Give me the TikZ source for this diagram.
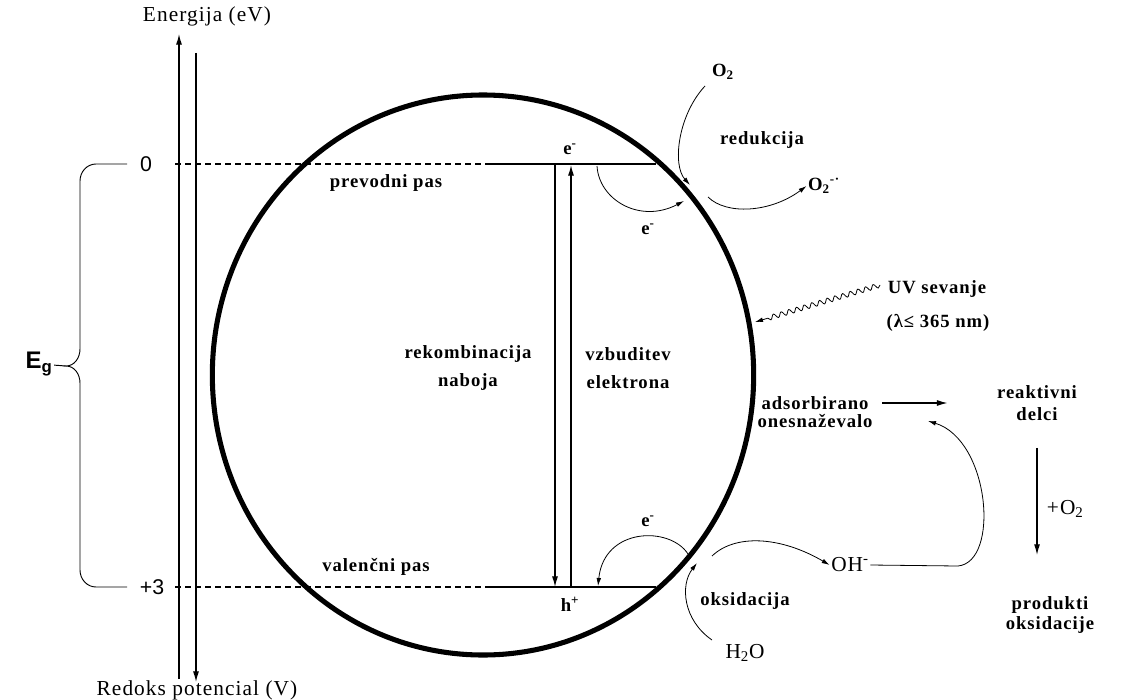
\documentclass[tikz,border=0pt]{standalone}
\usepackage{fontspec}
\setmainfont{Liberation Serif}
\setsansfont{Liberation Sans}
\usetikzlibrary{positioning,arrows.meta,decorations.pathmorphing}
\newcommand\lblf[1]{\fontsize{14}{#1}\selectfont\bfseries\addfontfeature{LetterSpace=5}}
\newcommand\lbl{\lblf{21}}
\newcommand\rgl{\fontsize{16}{20}\selectfont\addfontfeature{LetterSpace=5}}

\begin{document}
\begin{tikzpicture}[x=0.75pt,y=-0.75pt,
 lab/.style={font=\lbl,align=center,inner sep=1pt},
 txt/.style={font=\rgl,inner sep=1pt},
 num/.style={font=\sffamily\fontsize{16}{18}\selectfont,inner sep=1pt},
 band/.style={line width=0.8pt},
 arr/.style={line width=0.9pt,-{Latex[length=8pt,width=4.5pt]}},
 crv/.style={line width=0.6pt,-{Latex[length=6pt,width=3.5pt]}}]
\fill[white] (0,0) rectangle (1137,699);
\useasboundingbox (0,0) rectangle (1137,699);
% axes
\coordinate (e0) at (179,679); \coordinate (e1) at (179,34);
\coordinate (r0) at (196,53); \coordinate (r1) at (196,682);
\draw[arr] (e0)--(e1); \draw[arr] (r0)--(r1);
\node[txt] (energ) at (207,16) {Energija (eV)};
\node[txt] (redoks) at (197,690) {Redoks potencial (V)};
% bands
\node[num] (nic) at (146,164) {0};
\node[num] (tri) at (152,587) {+3};
\coordinate (cb0) at (175,164); \coordinate (cb1) at (490,164); \coordinate (cb2) at (656,164);
\coordinate (vb0) at (175,587); \coordinate (vb1) at (490,587); \coordinate (vb2) at (656,587);
\draw[band,dash pattern=on 4.5pt off 3pt] (cb0)--(cb1); \draw[band] (cb1)--(cb2);
\draw[band,dash pattern=on 4.5pt off 3pt] (vb0)--(vb1); \draw[band] (vb1)--(vb2);
% brace
\coordinate (tip) at (66,366);
\draw[line width=0.7pt] (127,164)--(96,164) to[out=180,in=90] (80,181)--(80,349) to[out=-90,in=0] (tip)
 to[out=0,in=90] (80,383)--(80,570) to[out=-90,in=180] (96,587)--(127,587);
\node[font=\sffamily\bfseries\fontsize{18}{20}\selectfont,inner sep=1pt] (eg) at (39,364) {E\textsubscript{g}};
\draw[line width=0.7pt] (eg)--(tip);
% particle
\draw[line width=3.8pt] (483,375) ellipse [x radius=203pt, y radius=210pt];
\coordinate (rk0) at (555,164); \coordinate (rk1) at (555,587);
\coordinate (vz0) at (571,587); \coordinate (vz1) at (571,165);
\draw[arr] (rk0)--(rk1); \draw[arr] (vz0)--(vz1);
\node[lab] (etop) at (570,149) {e\textsuperscript{-}};
\node[lab] (hp) at (570,604) {h\textsuperscript{+}};
\node[lab] (prev) at (386,183) {prevodni pas};
\node[lab] (val) at (376,567) {valenčni pas};
\node[lab] (rekom) at (468,368) {rekombinacija\\naboja};
\node[lab] (vzb) at (628,368) {vzbuditev\\elektrona};
% reduction
\node[lab] (o2) at (723,72) {O\textsubscript{2}};
\node[lab] (red) at (762,140) {redukcija};
\node[lab] (o2r) at (824,186) {O\textsubscript{2}\textsuperscript{-·}};
\coordinate (o2a) at (705,86); \coordinate (o2b) at (690,185);
\draw[crv] (o2a) .. controls (678,115) and (672,165) .. (o2b);
\coordinate (o2c) at (708,197);
\draw[crv] (o2c) .. controls (726,215) and (770,213) .. (o2r.west);
\coordinate (ec0) at (597,166); \coordinate (ec1) at (684,201);
\draw[crv] (ec0) .. controls (599,200) and (640,224) .. (ec1);
\node[lab] (ebot) at (648,229) {e\textsuperscript{-}};
% UV
\node[lab] (uv) at (937,289) {UV sevanje};
\node[lab] (lam) at (938,323) {(λ≤ 365 nm)};
\coordinate (uv0) at (880,285); \coordinate (uv1) at (755,322);
\draw[crv,decorate,decoration={snake,amplitude=1.8pt,segment length=6pt,post length=7pt}] (uv0)--(uv1);
% oxidation
\coordinate (ev0) at (688,554); \coordinate (ev1) at (598,586);
\draw[crv] (ev0) .. controls (670,526) and (604,527) .. (ev1);
\node[lab] (eval) at (648,521) {e\textsuperscript{-}};
\node[txt] (oh) at (850,565) {OH\textsuperscript{-}};
\coordinate (oh0) at (712,556);
\draw[crv] (oh0) .. controls (735,534) and (780,536) .. (oh.west);
\node[lab] (oks) at (745,601) {oksidacija};
\node[txt] (h2o) at (745,653) {H\textsubscript{2}O};
\coordinate (hw0) at (712,640); \coordinate (hw1) at (697,563);
\draw[crv] (hw0) .. controls (683,620) and (680,585) .. (hw1);
% pollutant
\node[lab,font={\lblf{13}}] (ads) at (815,412) {adsorbirano\\onesnaževalo};
\node[lab,font={\lblf{17}}] (reak) at (1037,403) {reaktivni\\delci};
\node[lab,font={\lblf{15}}] (prod) at (1050,615) {produkti\\oksidacije};
\draw[arr,shorten <=6pt,shorten >=36pt] (ads.east |- reak.west)--(reak.west);
\draw[arr,shorten <=19pt,shorten >=30pt] (reak)--(reak |- prod.north)
 node[midway,right,txt,xshift=6pt] (plo2) {+O\textsubscript{2}};
\coordinate (adsin) at (928,421);
\draw[crv] (oh.east)--(958,566) .. controls (1000,562) and (990,440) .. (adsin);
\end{tikzpicture}
\end{document}
